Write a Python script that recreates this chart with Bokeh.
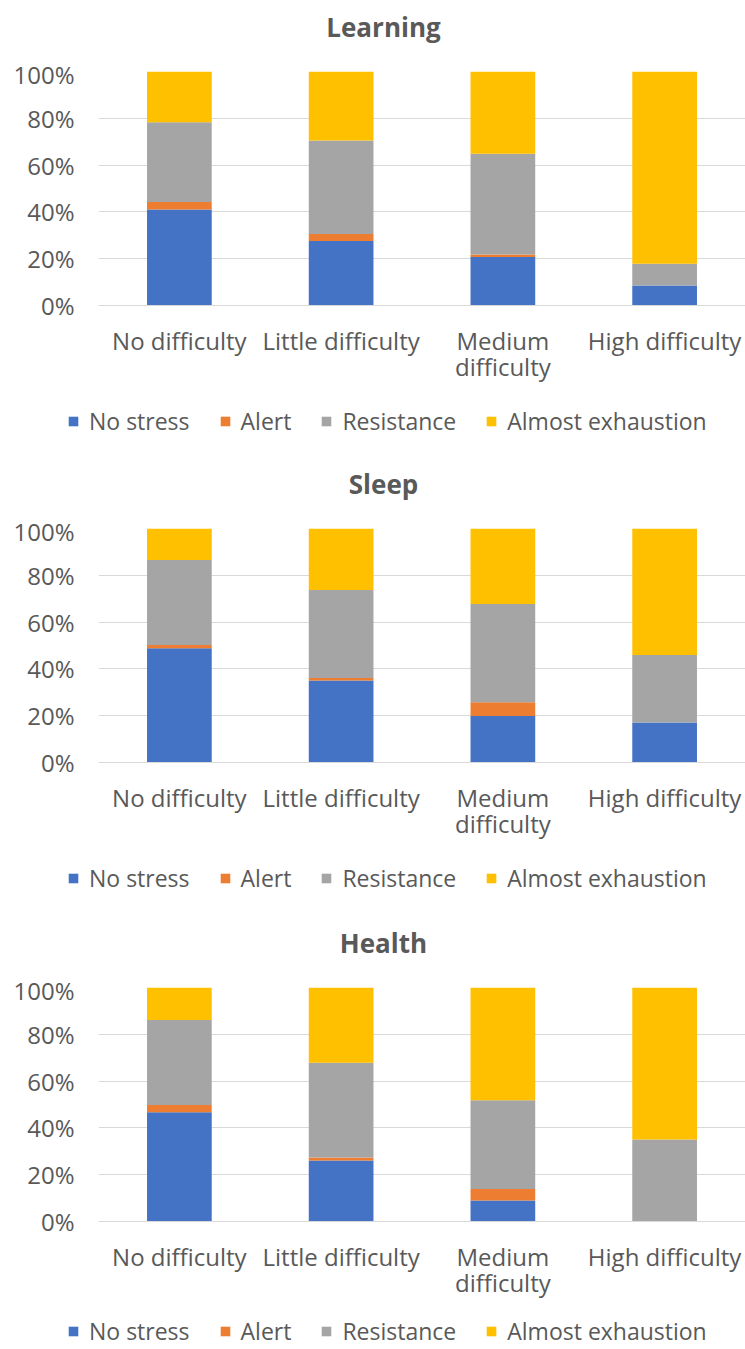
from bokeh.plotting import figure
from bokeh.layouts import column
from bokeh.models import (Legend, LegendItem, FixedTicker, Range1d, PrintfTickFormatter,
                          Label, CategoricalAxis, FactorRange)
from bokeh.embed import file_html
from bokeh.resources import INLINE

categories = ["No difficulty", "Little difficulty", "Medium difficulty", "High difficulty"]
label_line1 = ["No difficulty", "Little difficulty", "Medium", "High difficulty"]
label_line2 = [" ", "  ", "difficulty", "   "]
stages = ["No stress", "Alert", "Resistance", "Almost exhaustion"]
colors = ["#4472C4", "#ED7D31", "#A5A5A5", "#FFC000"]
y_ticks = [0, 20, 40, 60, 80, 100]
titles = ["Learning", "Sleep", "Health"]

learning_no_stress = [41.0, 27.6, 20.7, 8.5]
learning_alert = [3.2, 3.0, 1.1, 0.0]
learning_resistance = [34.1, 39.9, 43.0, 9.3]
learning_exhaustion = [21.7, 29.5, 35.2, 82.2]

sleep_no_stress = [48.8, 35.0, 19.9, 17.1]
sleep_alert = [1.4, 1.1, 5.8, 0.0]
sleep_resistance = [36.3, 37.6, 42.0, 28.8]
sleep_exhaustion = [13.5, 26.3, 32.3, 54.1]

health_no_stress = [46.7, 26.1, 9.0, 0.0]
health_alert = [3.1, 1.3, 4.9, 0.0]
health_resistance = [36.3, 40.4, 37.9, 35.0]
health_exhaustion = [13.9, 32.2, 48.2, 65.0]

FONT = "Open Sans"
TXT = "#595959"
W = 745
LEFT = 98
ALIGN_OFF = True


def unalign(f):
    global ALIGN_OFF
    try:
        f.frame_align = False
    except Exception:
        ALIGN_OFF = False


def blank_fig(h):
    f = figure(width=W, height=h, x_range=Range1d(0, W), y_range=Range1d(0, h),
               output_backend="svg", toolbar_location=None,
               x_axis_location=None, y_axis_location=None,
               min_border=0, min_border_left=0, min_border_right=0,
               min_border_top=0, min_border_bottom=0)
    f.grid.visible = False
    f.outline_line_color = None
    unalign(f)
    return f


def title_fig(text, h=57, from_top=26):
    f = blank_fig(h)
    x = 383 if ALIGN_OFF else 383 - LEFT
    f.add_layout(Label(x=x, y=h - from_top, x_units="screen", y_units="screen", text=text,
                       text_align="center", text_baseline="middle", text_font=FONT,
                       text_font_size="26px", text_font_style="bold", text_color=TXT))
    return f


def legend_fig(h, bottom):
    f = blank_fig(h)
    rs = [f.vbar(x=[0], top=[0], bottom=[0], width=0, fill_color=c, line_color=None)
          for c in colors]
    x = 67 if ALIGN_OFF else 0
    legend = Legend(items=[LegendItem(label=s, renderers=[r]) for s, r in zip(stages, rs)],
                    orientation="horizontal", location=(x, bottom),
                    label_text_font=FONT, label_text_font_size="23px", label_text_color=TXT,
                    glyph_width=12, glyph_height=12, label_standoff=10, spacing=29,
                    border_line_color=None, background_fill_alpha=0, margin=0, padding=0)
    f.add_layout(legend, "center")
    return f


def main_fig(series):
    keys = ["s0", "s1", "s2", "s3"]
    data = {"cat": categories}
    for k, v in zip(keys, series):
        data[k] = v
    p = figure(x_range=categories, y_range=Range1d(0, 100), width=W, height=14 + 234 + 90,
               output_backend="svg", toolbar_location=None, x_axis_location=None,
               min_border_left=LEFT, min_border_right=0, min_border_top=14,
               min_border_bottom=90)
    unalign(p)
    p.extra_x_ranges = {"l1": FactorRange(factors=label_line1),
                        "l2": FactorRange(factors=label_line2)}
    p.vbar_stack(keys, x="cat", width=0.4, color=colors, line_color=None, source=data)
    p.outline_line_color = None
    p.xgrid.visible = False
    p.ygrid.grid_line_color = "#D9D9D9"
    p.yaxis.ticker = FixedTicker(ticks=y_ticks)
    p.yaxis.formatter = PrintfTickFormatter(format="%d%%")
    p.yaxis.axis_line_color = None
    p.yaxis.major_tick_line_color = None
    p.yaxis.minor_tick_line_color = None
    p.yaxis.major_tick_out = 0
    p.yaxis.major_tick_in = 0
    p.yaxis.major_label_standoff = 24
    ax1 = CategoricalAxis(x_range_name="l1", axis_line_color="#D9D9D9",
                          major_tick_line_color=None, minor_tick_line_color=None,
                          major_tick_out=0, major_tick_in=0, major_label_standoff=18)
    ax2 = CategoricalAxis(x_range_name="l2", axis_line_color=None,
                          major_tick_line_color=None, minor_tick_line_color=None,
                          major_tick_out=0, major_tick_in=0, major_label_standoff=-10)
    p.add_layout(ax1, "below")
    p.add_layout(ax2, "below")
    for ax in (ax1, ax2, p.yaxis[0]):
        ax.major_label_text_font = FONT
        ax.major_label_text_font_size = "24px"
        ax.major_label_text_color = TXT
    return p


panels = [
    [learning_no_stress, learning_alert, learning_resistance, learning_exhaustion],
    [sleep_no_stress, sleep_alert, sleep_resistance, sleep_exhaustion],
    [health_no_stress, health_alert, health_resistance, health_exhaustion],
]
legend_heights = [62, 64, 38]
legend_bottoms = [20, 22, 2]

children = []
for t, s, lh, lb in zip(titles, panels, legend_heights, legend_bottoms):
    m = main_fig(s)
    children.append(title_fig(t))
    children.append(m)
    children.append(legend_fig(lh, lb))

page = column(*children, spacing=0)
open("out.html", "w").write(file_html(page, INLINE))
